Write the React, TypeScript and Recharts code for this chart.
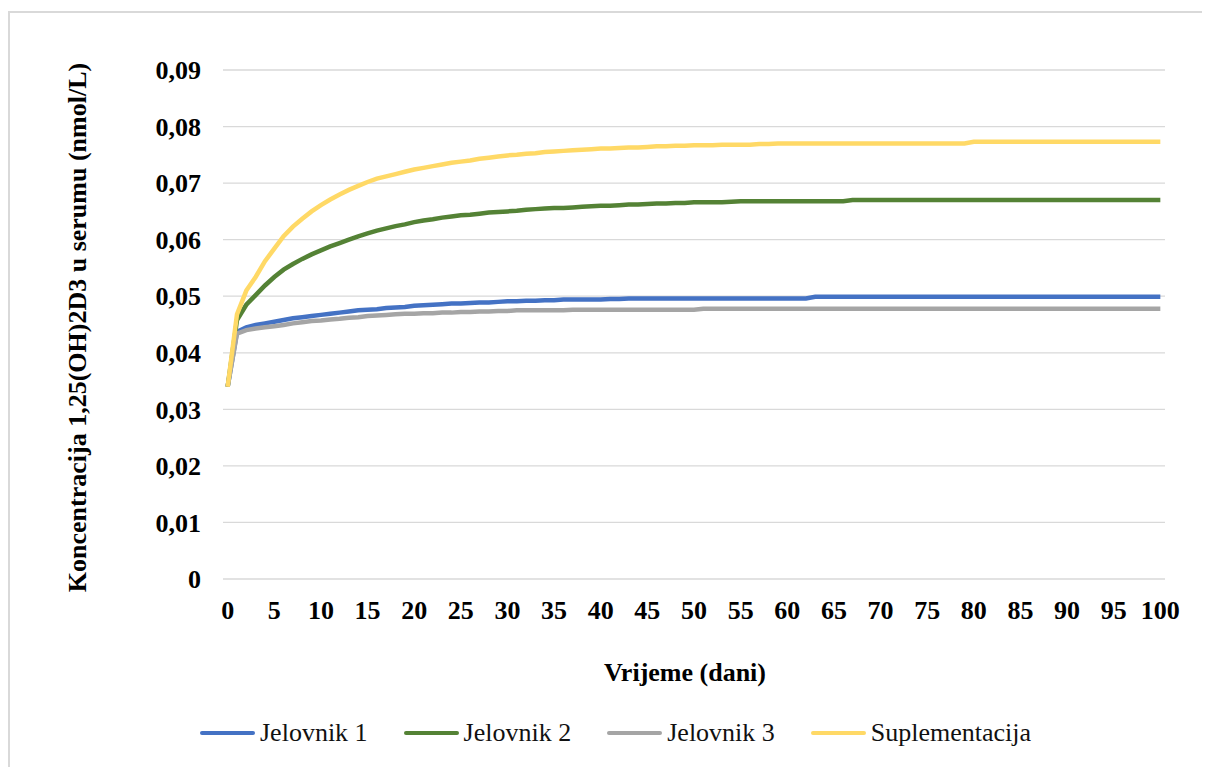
import React from 'react';
import { LineChart, Line, XAxis, YAxis, CartesianGrid, Legend, Label } from 'recharts';

const days = Array.from({ length: 101 }, (_, i) => i);

const jelovnik1 = [
  0.034, 0.0437, 0.0445, 0.0449, 0.0452, 0.0455, 0.0458, 0.0461, 0.0463, 0.0465,
  0.0467, 0.0469, 0.0471, 0.0473, 0.0475, 0.0476, 0.0477, 0.0479, 0.048, 0.0481,
  0.0483, 0.0484, 0.0485, 0.0486, 0.0487, 0.0487, 0.0488, 0.0489, 0.0489, 0.049,
  0.0491, 0.0491, 0.0492, 0.0492, 0.0493, 0.0493, 0.0494, 0.0494, 0.0494, 0.0494,
  0.0494, 0.0495, 0.0495, 0.0496, 0.0496, 0.0496, 0.0496, 0.0496, 0.0496, 0.0496,
  0.0496, 0.0496, 0.0496, 0.0496, 0.0496, 0.0496, 0.0496, 0.0496, 0.0496, 0.0496,
  0.0496, 0.0496, 0.0496, 0.0499, 0.0499, 0.0499, 0.0499, 0.0499, 0.0499, 0.0499,
  0.0499, 0.0499, 0.0499, 0.0499, 0.0499, 0.0499, 0.0499, 0.0499, 0.0499, 0.0499,
  0.0499, 0.0499, 0.0499, 0.0499, 0.0499, 0.0499, 0.0499, 0.0499, 0.0499, 0.0499,
  0.0499, 0.0499, 0.0499, 0.0499, 0.0499, 0.0499, 0.0499, 0.0499, 0.0499, 0.0499,
  0.0499,
];

const jelovnik2 = [
  0.034, 0.0458, 0.0485, 0.0502, 0.0519, 0.0534, 0.0547, 0.0557, 0.0566, 0.0574,
  0.0581, 0.0588, 0.0594, 0.06, 0.0606, 0.0611, 0.0616, 0.062, 0.0624, 0.0627,
  0.0631, 0.0634, 0.0636, 0.0639, 0.0641, 0.0643, 0.0644, 0.0646, 0.0648, 0.0649,
  0.065, 0.0651, 0.0653, 0.0654, 0.0655, 0.0656, 0.0656, 0.0657, 0.0658, 0.0659,
  0.066, 0.066, 0.0661, 0.0662, 0.0662, 0.0663, 0.0664, 0.0664, 0.0665, 0.0665,
  0.0666, 0.0666, 0.0666, 0.0666, 0.0667, 0.0668, 0.0668, 0.0668, 0.0668, 0.0668,
  0.0668, 0.0668, 0.0668, 0.0668, 0.0668, 0.0668, 0.0668, 0.067, 0.067, 0.067,
  0.067, 0.067, 0.067, 0.067, 0.067, 0.067, 0.067, 0.067, 0.067, 0.067,
  0.067, 0.067, 0.067, 0.067, 0.067, 0.067, 0.067, 0.067, 0.067, 0.067,
  0.067, 0.067, 0.067, 0.067, 0.067, 0.067, 0.067, 0.067, 0.067, 0.067,
  0.067,
];

const jelovnik3 = [
  0.034, 0.0434, 0.044, 0.0443, 0.0445, 0.0447, 0.0449, 0.0452, 0.0454, 0.0456,
  0.0457, 0.0459, 0.046, 0.0462, 0.0463, 0.0465, 0.0466, 0.0467, 0.0468, 0.0469,
  0.0469, 0.047, 0.047, 0.0471, 0.0471, 0.0472, 0.0472, 0.0473, 0.0473, 0.0474,
  0.0474, 0.0475, 0.0475, 0.0475, 0.0475, 0.0475, 0.0475, 0.0476, 0.0476, 0.0476,
  0.0476, 0.0476, 0.0476, 0.0476, 0.0476, 0.0476, 0.0476, 0.0476, 0.0476, 0.0476,
  0.0476, 0.0478, 0.0478, 0.0478, 0.0478, 0.0478, 0.0478, 0.0478, 0.0478, 0.0478,
  0.0478, 0.0478, 0.0478, 0.0478, 0.0478, 0.0478, 0.0478, 0.0478, 0.0478, 0.0478,
  0.0478, 0.0478, 0.0478, 0.0478, 0.0478, 0.0478, 0.0478, 0.0478, 0.0478, 0.0478,
  0.0478, 0.0478, 0.0478, 0.0478, 0.0478, 0.0478, 0.0478, 0.0478, 0.0478, 0.0478,
  0.0478, 0.0478, 0.0478, 0.0478, 0.0478, 0.0478, 0.0478, 0.0478, 0.0478, 0.0478,
  0.0478,
];

const suplementacija = [
  0.034, 0.0468, 0.051, 0.0534, 0.0562, 0.0584, 0.0606, 0.0623, 0.0637, 0.065,
  0.0661, 0.0671, 0.068, 0.0688, 0.0695, 0.0702, 0.0708, 0.0712, 0.0716, 0.072,
  0.0724, 0.0727, 0.073, 0.0733, 0.0736, 0.0738, 0.074, 0.0743, 0.0745, 0.0747,
  0.0749, 0.075, 0.0752, 0.0753, 0.0755, 0.0756, 0.0757, 0.0758, 0.0759, 0.076,
  0.0761, 0.0761, 0.0762, 0.0763, 0.0763, 0.0764, 0.0765, 0.0765, 0.0766, 0.0766,
  0.0767, 0.0767, 0.0767, 0.0768, 0.0768, 0.0768, 0.0768, 0.0769, 0.0769, 0.077,
  0.077, 0.077, 0.077, 0.077, 0.077, 0.077, 0.077, 0.077, 0.077, 0.077,
  0.077, 0.077, 0.077, 0.077, 0.077, 0.077, 0.077, 0.077, 0.077, 0.077,
  0.0773, 0.0773, 0.0773, 0.0773, 0.0773, 0.0773, 0.0773, 0.0773, 0.0773, 0.0773,
  0.0773, 0.0773, 0.0773, 0.0773, 0.0773, 0.0773, 0.0773, 0.0773, 0.0773, 0.0773,
  0.0773,
];

const xTicks = [0, 5, 10, 15, 20, 25, 30, 35, 40, 45, 50, 55, 60, 65, 70, 75, 80, 85, 90, 95, 100];
const yTicks = [0, 0.01, 0.02, 0.03, 0.04, 0.05, 0.06, 0.07, 0.08, 0.09];

const seriesKeys = ['j1', 'j2', 'j3', 'sup'];
const seriesNames = ['Jelovnik 1', 'Jelovnik 2', 'Jelovnik 3', 'Suplementacija'];
const seriesColors = ['#4472C4', '#548235', '#A5A5A5', '#FFD966'];
const seriesValues = [jelovnik1, jelovnik2, jelovnik3, suplementacija];

const xTitle = 'Vrijeme (dani)';
const yTitle = 'Koncentracija 1,25(OH)2D3 u serumu (nmol/L)';

const data = days.map((d, i) => {
  const row: Record<string, number> = { day: d };
  seriesKeys.forEach((k, s) => {
    row[k] = seriesValues[s][i];
  });
  return row;
});

const FONT = "'Liberation Serif', 'Times New Roman', serif";

const fmtY = (v: number) => (v === 0 ? '0' : v.toFixed(2).replace('.', ','));

function LegendContent() {
  return (
    <div
      style={{
        height: 40,
        display: 'flex',
        alignItems: 'center',
        paddingLeft: 190,
        fontFamily: FONT,
        fontSize: 26,
        color: '#111',
      }}
    >
      {seriesNames.map((n, i) => (
        <div key={n} style={{ display: 'flex', alignItems: 'center', marginRight: 36 }}>
          <span
            style={{
              display: 'inline-block',
              width: 55,
              height: 4,
              background: seriesColors[i],
              borderRadius: 2,
              marginRight: 5,
            }}
          />
          <span>{n}</span>
        </div>
      ))}
    </div>
  );
}

function YTitle(props: any) {
  const vb = props.viewBox || {};
  const cx = vb.x + 67;
  const cy = vb.y + vb.height / 2 + 3;
  return (
    <text
      x={cx}
      y={cy}
      transform={`rotate(-90, ${cx}, ${cy})`}
      textAnchor="middle"
      dominantBaseline="central"
      fontFamily={FONT}
      fontSize={26}
      fontWeight="bold"
      fill="#000"
    >
      {yTitle}
    </text>
  );
}

function XTitle(props: any) {
  const vb = props.viewBox || {};
  const cx = vb.x + vb.width / 2 - 9;
  const cy = vb.y + 93;
  return (
    <text
      x={cx}
      y={cy}
      textAnchor="middle"
      dominantBaseline="central"
      fontFamily={FONT}
      fontSize={26}
      fontWeight="bold"
      fill="#000"
    >
      {xTitle}
    </text>
  );
}

export default function App() {
  return (
    <div
      style={{
        marginTop: 3,
        width: 1200,
        boxSizing: 'border-box',
        border: '2px solid #d9d9d9',
        background: '#fff',
      }}
    >
      <LineChart
        width={1196}
        height={760}
        data={data}
        margin={{ top: 57, right: 41, left: 0, bottom: 20 }}
      >
        <CartesianGrid vertical={false} stroke="#d9d9d9" strokeWidth={1.3} />
        <XAxis
          dataKey="day"
          type="number"
          domain={[-0.5, 100.5]}
          ticks={xTicks}
          interval={0}
          axisLine={false}
          tickLine={false}
          tickMargin={16}
          height={134}
          tick={{ fontFamily: FONT, fontSize: 26, fontWeight: 'bold', fill: '#000' }}
        >
          <Label content={<XTitle />} />
        </XAxis>
        <YAxis
          type="number"
          domain={[0, 0.09]}
          ticks={yTicks}
          interval={0}
          axisLine={false}
          tickLine={false}
          tickMargin={16}
          width={213}
          tickFormatter={fmtY}
          tick={{ fontFamily: FONT, fontSize: 26, fontWeight: 'bold', fill: '#000' }}
        >
          <Label content={<YTitle />} />
        </YAxis>
        <Legend
          verticalAlign="bottom"
          content={<LegendContent />}
          wrapperStyle={{ left: 0, width: 1196 }}
        />
        {seriesKeys.map((k, i) => (
          <Line
            key={k}
            dataKey={k}
            name={seriesNames[i]}
            type="linear"
            stroke={seriesColors[i]}
            strokeWidth={4.5}
            dot={false}
            activeDot={false}
            isAnimationActive={false}
          />
        ))}
      </LineChart>
    </div>
  );
}
